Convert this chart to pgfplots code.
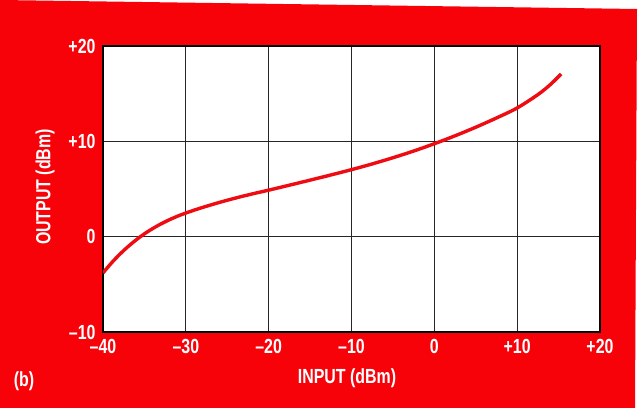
\documentclass[border=0pt]{standalone}
\usepackage{pgfplots}
\pgfplotsset{compat=1.18}
\usepackage{fontspec}
\setmainfont{Liberation Sans}[FakeStretch=0.78]
\definecolor{bgred}{RGB}{248,2,10}
\definecolor{curvered}{RGB}{238,12,18}
\begin{document}
\begin{tikzpicture}
\path (0bp,0bp) rectangle (644bp,419bp);
\fill[bgred] (0bp,419bp) -- (637bp,410bp) -- (635bp,11bp) -- (0bp,11bp) -- cycle;
\begin{axis}[
  at={(103bp,87bp)}, anchor=south west,
  scale only axis, width=497bp, height=286bp,
  xmin=-40, xmax=20, ymin=-10, ymax=20,
  xtick={-40,-30,-20,-10,0,10,20},
  xticklabels={–40,–30,–20,–10,0,+10,+20},
  ytick={-10,0,10,20},
  yticklabels={–10,0,+10,+20},
  grid=major,
  grid style={black!85, line width=1bp},
  axis line style={black, line width=1.3bp},
  axis background/.style={fill=white},
  tick style={draw=none},
  ticklabel style={text=white, font=\bfseries\fontsize{20.5}{21}\selectfont},
  xticklabel style={yshift=-4bp},
  yticklabel style={xshift=-4bp},
]
\addplot[curvered, line width=3.4bp, smooth] coordinates {
(-40,-3.8) (-39,-2.78) (-38,-1.87) (-37,-1.06) (-36,-0.34) (-35,0.30)
(-34,0.85) (-33,1.34) (-32,1.77) (-31,2.15) (-30,2.48) (-29,2.78) (-28,3.06)
(-26,3.58) (-24,4.05) (-22,4.48) (-20,4.88) (-17.5,5.4) (-15,5.93) (-12.5,6.47)
(-10,7.03) (-7.5,7.63) (-5,8.28) (-2.5,8.98) (0,9.75) (2.5,10.58) (5,11.48)
(7.5,12.45) (10,13.5) (12.5,14.9) (14,15.95) (15.3,17.06)
};
\end{axis}
\node[text=white, font=\bfseries\fontsize{20.5}{21}\selectfont] at (347bp,41bp) {INPUT (dBm)};
\node[text=white, font=\bfseries\fontsize{20.5}{21}\selectfont, rotate=90] at (45bp,232bp) {OUTPUT (dBm)};
\node[text=white, font=\bfseries\fontsize{20.5}{21}\selectfont] at (24bp,38bp) {(b)};
\end{tikzpicture}
\end{document}
